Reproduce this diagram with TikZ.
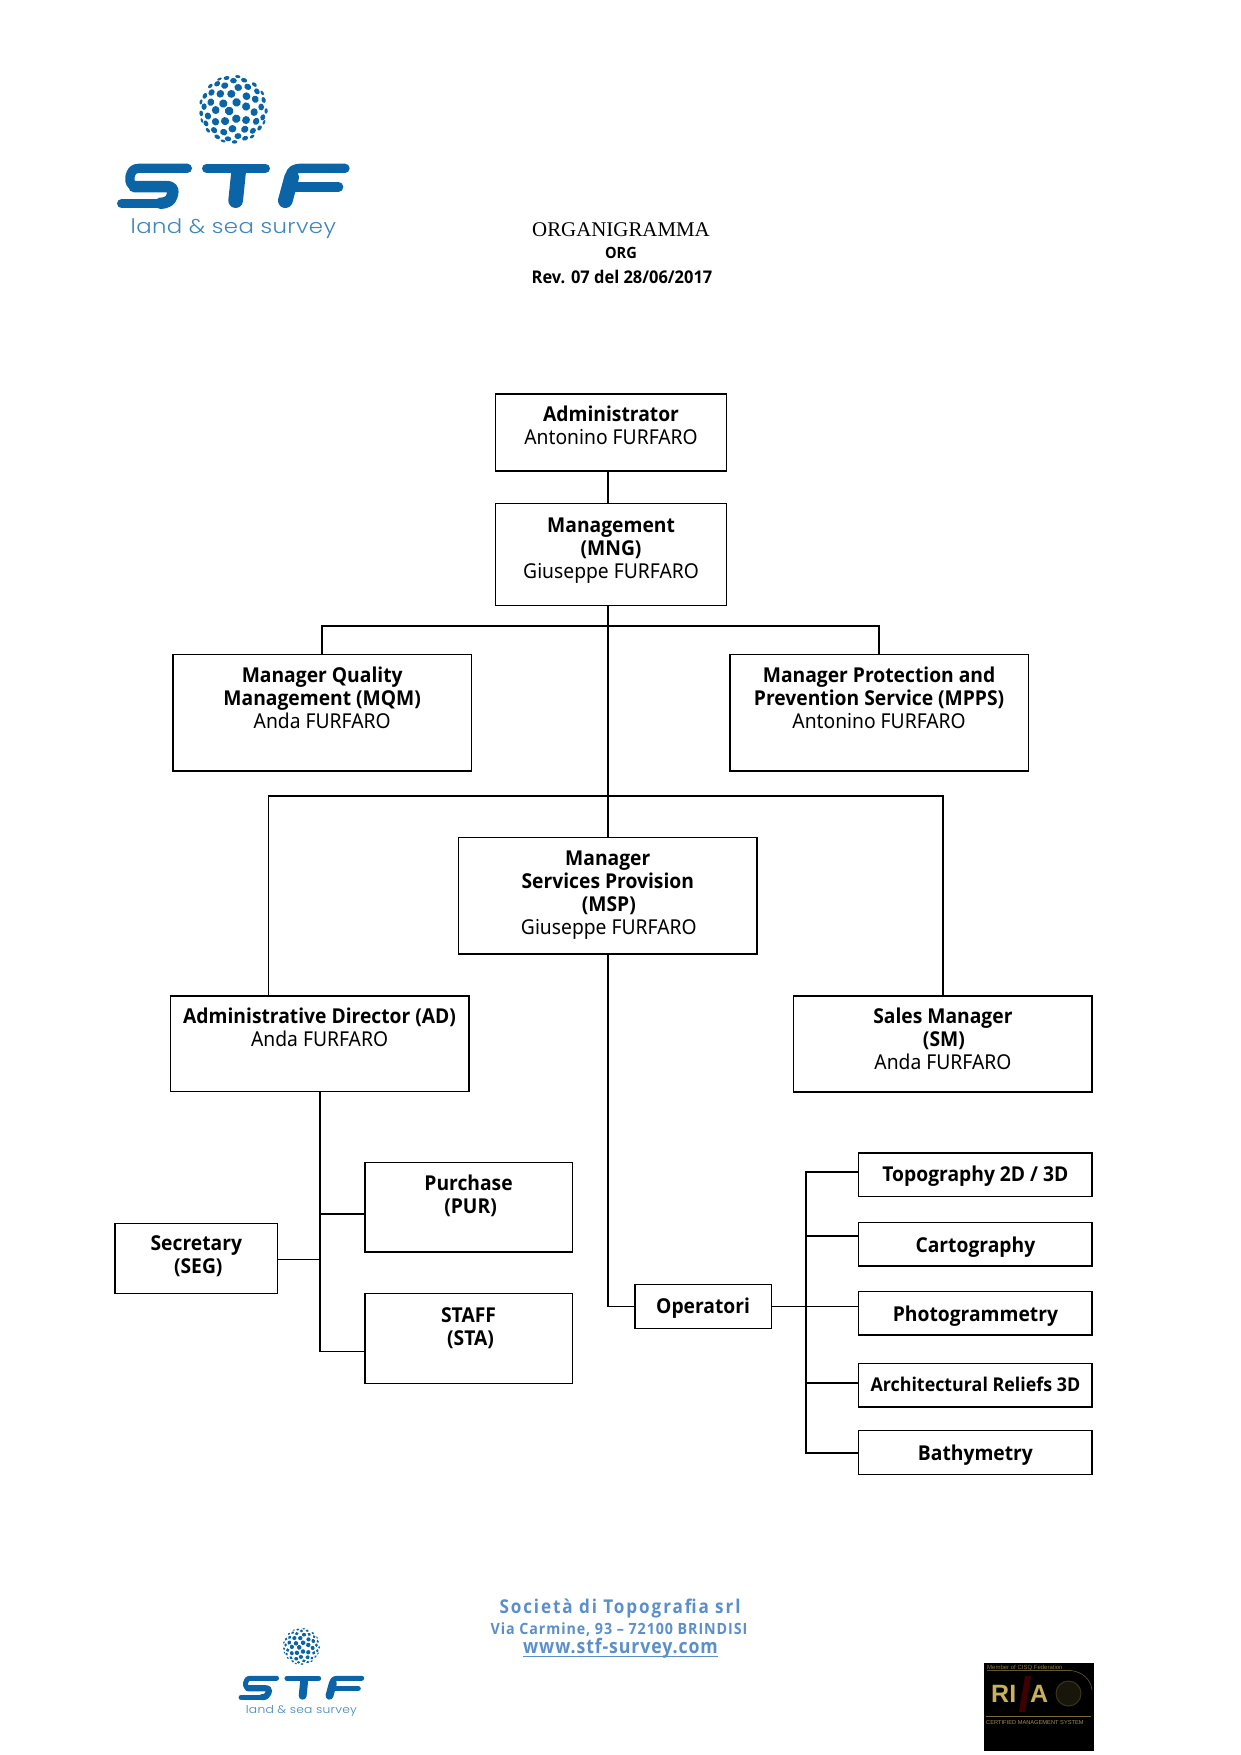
\documentclass[tikz,border=0pt]{standalone}
\usepackage{fontspec}
\setmainfont{Noto Sans}
\newfontfamily\bodyfont[FakeStretch=0.94]{Noto Sans}
\newfontfamily\headfont[FakeStretch=0.94,UprightFont=* Bold]{Open Sans}
\newfontfamily\serfont{Liberation Serif}
\newfontfamily\logofont[FakeStretch=1.14,LetterSpace=2,UprightFont=* Light]{Poppins}
\newfontfamily\fooa[FakeStretch=0.90,LetterSpace=10,UprightFont=* Bold]{Open Sans}
\newfontfamily\foob[FakeStretch=0.92,LetterSpace=6,UprightFont=* Bold]{Open Sans}
\newfontfamily\fooc[FakeStretch=0.885,LetterSpace=4.5,UprightFont=* Bold]{Open Sans}
\newfontfamily\rinafont{Liberation Sans}
\definecolor{logoblue}{HTML}{0B64A6}
\definecolor{logolight}{HTML}{3F86BC}
\definecolor{footblue}{HTML}{5B8FC9}
\definecolor{rinagold}{HTML}{C9B05C}
\tikzset{
  orgbox/.style={draw=black,line width=1.5pt,fill=white,inner sep=0pt,outer sep=0pt,anchor=north west},
  link/.style={draw=black,line width=1.5pt},
  bar/.style={draw=logoblue,line cap=round,line join=round},
}
% name, x1, y1, x2, y2, top offset, text
\newcommand\orgnode[7]{%
  \pgfmathsetmacro\bw{#4-#2}\pgfmathsetmacro\bh{#5-#3}%
  \node[orgbox] (#1) at (#2,#3) {\parbox[b][\bh pt][t]{\bw pt}{\centering\fontsize{20.5}{23}\selectfont\vspace*{\dimexpr#6pt+1pt\relax}#7\par}};}
\newcommand\hd[1]{{\headfont #1}}
\newcommand\nm[1]{{\bodyfont #1}}
% x shift, y shift, scale (drawn in the units of a 3x crop of the large logo)
\newcommand\stflogo[3]{%
\begin{scope}[shift={(#1,#2)},x=#3pt,y=-#3pt]
  \foreach \i in {1,...,56}{%
    \pgfmathsetmacro\zv{1-(\i-0.5)/56}%
    \pgfmathsetmacro\rv{sqrt(1-\zv*\zv)}%
    \pgfmathsetmacro\av{\i*137.508+20}%
    \pgfmathsetmacro\rax{13*#3*(0.25+0.75*\zv)}%
    \pgfmathsetmacro\rby{13*#3*(0.55+0.45*\zv)}%
    \pgfmathsetmacro\px{370+100*\rv*cos(\av)}%
    \pgfmathsetmacro\py{118+100*\rv*sin(\av)}%
    \fill[logoblue,shift={(\px,\py)},rotate=-\av]
      (0,0) ellipse [x radius=\rax pt,y radius=\rby pt];
  }
  \pgfmathsetmacro\lwa{28*#3}\pgfmathsetmacro\lwb{44*#3}\pgfmathsetmacro\lwc{34*#3}
  % S
  \draw[bar,line width=\lwa pt] (232,295) -- (88,295) .. controls (68,295) and (64,305) .. (60,320)
     .. controls (58,338) and (62,349) .. (84,349);
  \draw[bar,line width=\lwc pt] (72,350) -- (170,350) .. controls (190,350) and (192,362) .. (186,378)
     .. controls (182,392) and (172,399) .. (150,400);
  \draw[bar,line width=\lwa pt] (150,401) -- (35,401);
  % T
  \draw[bar,line width=\lwa pt] (290,295) -- (466,295);
  \draw[bar,line width=\lwb pt] (386,304) -- (377,392);
  % F
  \draw[bar,line width=\lwa pt] (705,295) -- (578,295) .. controls (552,295) and (542,300) .. (540,320);
  \draw[bar,line width=\lwb pt] (545,322) -- (526,392);
  \draw[bar,line width=\lwa pt] (545,351) -- (686,351);
  \pgfmathsetmacro\fs{60*#3}
  \node[text=logolight,inner sep=0pt,anchor=base] (logotext#1) at (370,490)
    {\logofont\fontsize{\fs}{\fs}\selectfont land \& sea survey};
\end{scope}}
\begin{document}
\begin{tikzpicture}[x=1pt,y=-1pt]
\useasboundingbox (0,0) rectangle (1240,1755);
\fill[white] (0,0) rectangle (1240,1755);

\stflogo{110}{70}{0.3333}
\stflogo{234.8}{1625.2}{0.18}

% heading
\node[inner sep=0pt,anchor=base] (title) at (621,236) {\serfont\fontsize{20.9}{24}\selectfont ORGANIGRAMMA};
\node[inner sep=0pt,anchor=base] (org) at (621,258.5) {\fontsize{15.5}{18}\selectfont\hd{ORG}};
\node[inner sep=0pt,anchor=base] (rev) at (622,283) {\fontsize{17.5}{19}\selectfont\hd{Rev. 07 del 28/06/2017}};

% boxes
\orgnode{adm}{495.6}{394}{726.5}{470.8}{11.4}{\hd{Administrator}\\\nm{Antonino FURFARO}}
\orgnode{mng}{495.6}{503.4}{726.5}{605.3}{13.5}{\hd{Management}\\\hd{(MNG)}\\\nm{Giuseppe FURFARO}}
\orgnode{mqm}{172.9}{654.7}{471.5}{771}{11.4}{\hd{Manager Quality}\\\hd{Management (MQM)}\\\nm{Anda FURFARO}}
\orgnode{mpps}{729.8}{654.7}{1028.4}{771}{11.4}{\hd{Manager Protection and}\\\hd{Prevention Service (MPPS)}\\\nm{Antonino FURFARO}}
\orgnode{msp}{458.5}{837.6}{757.1}{954}{12.5}{\hd{Manager}\\\hd{Services Provision}\\\hspace*{2pt}\hd{(MSP)}\\\hspace*{2pt}\nm{Giuseppe FURFARO}}
\orgnode{ad}{170.3}{995.9}{468.9}{1091.4}{11.4}{\hd{Administrative Director (AD)}\\\nm{Anda FURFARO}}
\orgnode{sm}{793.6}{995.9}{1092.2}{1091.8}{11.4}{\hd{Sales Manager}\\\hspace*{2pt}\hd{(SM)}\\\nm{Anda FURFARO}}
\orgnode{pur}{364.8}{1162.7}{572.3}{1252}{11}{\hd{Purchase}\\\hspace*{4pt}\hd{(PUR)}}
\orgnode{sta}{364.8}{1293.3}{572.3}{1383.3}{13}{\hd{STAFF}\\\hspace*{4pt}\hd{(STA)}}
\orgnode{seg}{115}{1223.7}{277.6}{1293.7}{11.4}{\hd{Secretary}\\\hspace*{4pt}\hd{(SEG)}}
\orgnode{ope}{634.8}{1284.3}{771.4}{1328.3}{12.9}{\hd{Operatori}}
\orgnode{top}{858.6}{1153}{1092.2}{1196.7}{12}{\hd{Topography 2D / 3D}}
\orgnode{car}{858.6}{1222.7}{1092.2}{1266}{12.9}{\hd{Cartography}}
\orgnode{pho}{858.6}{1291.7}{1092.2}{1335}{12.9}{\hd{Photogrammetry}}
\orgnode{arc}{858.6}{1363.7}{1092.2}{1407}{12}{\fontsize{19}{23}\selectfont\hd{Architectural Reliefs 3D}}
\orgnode{bat}{858.6}{1430.7}{1092.2}{1474.3}{12.9}{\hd{Bathymetry}}

% routing coordinates
\coordinate (trunk) at (608.2,625.8);
\coordinate (bar1) at (608.2,625.8);
\coordinate (bar2) at (608.2,796.2);
\coordinate (left2) at (268.5,796.2);
\coordinate (right2) at (943.2,796.2);
\coordinate (adx) at (320,1214);
\coordinate (segy) at (320,1259.3);
\coordinate (stay) at (320,1351.3);
\coordinate (opey) at (608.2,1306.3);
\coordinate (bus) at (805.9,1306.3);
\coordinate (bus1) at (805.9,1172);
\coordinate (bus2) at (805.9,1236);
\coordinate (bus4) at (805.9,1383);
\coordinate (bus5) at (805.9,1453);

% connectors
\draw[link] (adm.south -| trunk) -- (mng.north -| trunk);
\draw[link] (mng.south -| trunk) -- (msp.north -| trunk);
\draw[link] (mqm.north) -- (mqm.north |- bar1) -- (mpps.north |- bar1) -- (mpps.north);
\draw[link] (ad.north -| left2) -- (left2) -- (right2) -- (sm.north -| right2);
\draw[link] (msp.south -| trunk) -- (opey) -- (ope.west |- opey);
\draw[link] (ad.south -| adx) -- (stay) -- (sta.west |- stay);
\draw[link] (adx) -- (pur.west |- adx);
\draw[link] (seg.east |- segy) -- (segy);
\draw[link] (ope.east |- bus) -- (pho.west |- bus);
\draw[link] (top.west |- bus1) -- (bus1) -- (bus5) -- (bat.west |- bus5);
\draw[link] (bus2) -- (car.west |- bus2);
\draw[link] (bus4) -- (arc.west |- bus4);

% footer
\node[inner sep=0pt,anchor=base,text=footblue] (foot1) at (620,1613) {\fooa\fontsize{19}{22}\selectfont Società di Topografia srl};
\node[inner sep=0pt,anchor=base,text=footblue] (foot2) at (619,1634) {\foob\fontsize{15.5}{18}\selectfont Via Carmine, 93 – 72100 BRINDISI};
\node[inner sep=0pt,anchor=base,text=footblue] (foot3) at (620.5,1653) {\fooc\fontsize{20}{22}\selectfont www.stf-survey.com};
\coordinate (ul1) at (523,1656.5);
\coordinate (ul2) at (718,1656.5);
\draw[footblue,line width=1.5pt] (ul1) -- (ul2);

% RINA mark
\fill[black] (983.5,1663) rectangle (1093.5,1751);
\node[inner sep=0pt,anchor=base west,text=rinagold!70!black] (rina1) at (987,1669) {\rinafont\fontsize{6}{7}\selectfont Member of CISQ Federation};
\draw[rinagold!50!black,line width=0.6pt] (987,1670.5) -- (1071,1670.5) .. controls (1083,1672) and (1091,1680) .. (1092,1690);
\fill[red!25!black] (1025,1676) -- (1031,1676) -- (1025,1712) -- (1019,1712) -- cycle;
\node[inner sep=0pt,anchor=base west,text=rinagold] (rina2) at (991,1702) {\rinafont\bfseries\fontsize{25}{26}\selectfont RI};
\node[inner sep=0pt,anchor=base west,text=rinagold] (rina3) at (1030,1702) {\rinafont\bfseries\fontsize{25}{26}\selectfont A};
\draw[rinagold!30!black,line width=1pt,fill=rinagold!12!black] (1068.5,1693.5) circle (12.5);
\draw[rinagold!60!black,line width=0.6pt] (986,1716.5) -- (1091,1716.5);
\node[inner sep=0pt,anchor=base west,text=rinagold!80!black] (rina4) at (986,1724) {\rinafont\fontsize{5.7}{7}\selectfont CERTIFIED MANAGEMENT SYSTEM};
\end{tikzpicture}
\end{document}
